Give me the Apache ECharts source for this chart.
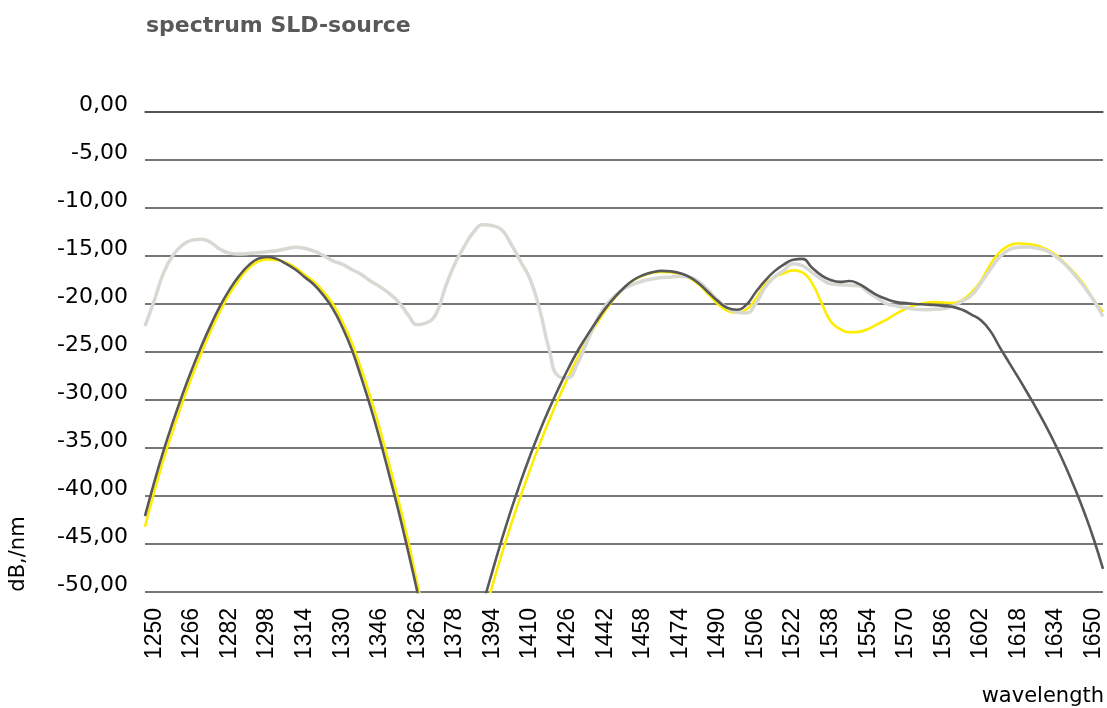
<!DOCTYPE html>
<html>
<head>
<meta charset="utf-8">
<title>spectrum SLD-source</title>
<script src="https://cdn.jsdelivr.net/npm/echarts/dist/echarts.min.js"></script>
<style>
  html, body { margin: 0; padding: 0; background: #fff; }
  #chart { width: 1107px; height: 708px; }
</style>
</head>
<body>
<div id="chart"></div>
<script>
// wavelength, nm (every 4 nm, labels shown every 16 nm)
const wavelength = [
  1246, 1250, 1254, 1258, 1262, 1266, 1270, 1274, 1278, 1282,
  1286, 1290, 1294, 1298, 1302, 1306, 1310, 1314, 1318, 1322,
  1326, 1330, 1334, 1338, 1342, 1346, 1350, 1354, 1358, 1362,
  1366, 1370, 1374, 1378, 1382, 1386, 1390, 1394, 1398, 1402,
  1406, 1410, 1414, 1418, 1422, 1426, 1430, 1434, 1438, 1442,
  1446, 1450, 1454, 1458, 1462, 1466, 1470, 1474, 1478, 1482,
  1486, 1490, 1494, 1498, 1502, 1506, 1510, 1514, 1518, 1522,
  1526, 1530, 1534, 1538, 1542, 1546, 1550, 1554, 1558, 1562,
  1566, 1570, 1574, 1578, 1582, 1586, 1590, 1594, 1598, 1602,
  1606, 1610, 1614, 1618, 1622, 1626, 1630, 1634, 1638, 1642,
  1646, 1650, 1654
];

// dark grey curve (dB/nm), values below -50 fall out of the plot
const darkCurve = [
  -42.1, -38.5, -35.2, -32.2, -29.4, -26.8, -24.4, -22.2, -20.2, -18.5,
  -17.1, -16.0, -15.3, -15.1, -15.3, -15.8, -16.4, -17.2, -18.0, -19.1,
  -20.5, -22.4, -24.7, -27.6, -30.7, -34.1, -37.8, -41.6, -45.7, -50.0,
  -54.5, -58.5, -61, -61, -59, -55.5, -51.3, -47.8, -44.5, -41.4,
  -38.5, -35.8, -33.3, -31.0, -28.85, -26.85, -25.0, -23.4, -21.9, -20.5,
  -19.3, -18.3, -17.5, -17.0, -16.7, -16.55, -16.6, -16.8, -17.2, -17.9,
  -18.8, -19.7, -20.4, -20.6, -20.1, -18.8, -17.6, -16.6, -15.9, -15.4,
  -15.3, -16.2, -17.0, -17.5, -17.7, -17.6, -17.9, -18.5, -19.1, -19.5,
  -19.8, -19.9, -20.0, -20.05, -20.1, -20.2, -20.3, -20.6, -21.1, -21.7,
  -22.8, -24.5, -26.1, -27.7, -29.35, -31.05, -32.85, -34.8, -36.9, -39.2,
  -41.7, -44.45, -47.6
];

// yellow curve
const yellowCurve = [
  -43.2, -39.5, -36.1, -33.1, -30.2, -27.55, -25.1, -22.8, -20.75, -18.95,
  -17.5, -16.3, -15.6, -15.35, -15.4, -15.7, -16.2, -16.95, -17.7, -18.7,
  -20.0, -21.8, -24.0, -26.7, -29.7, -33.0, -36.7, -40.5, -44.6, -49.2,
  -53.6, -58, -61, -62, -60, -57, -52.9, -49.3, -46.0, -42.9,
  -40.0, -37.25, -34.65, -32.2, -29.9, -27.75, -25.75, -23.9, -22.2, -20.7,
  -19.4, -18.35, -17.55, -17.05, -16.75, -16.65, -16.7, -16.9, -17.3, -18.0,
  -19.0, -20.0, -20.7, -20.9, -20.6, -19.5, -18.0, -17.2, -16.8, -16.5,
  -16.7, -17.8, -19.8, -21.8, -22.6, -22.95, -22.9, -22.6, -22.1, -21.6,
  -21.0, -20.5, -20.1, -19.9, -19.8, -19.85, -19.9, -19.6, -18.8, -17.6,
  -15.9, -14.6, -13.9, -13.7, -13.75, -13.9, -14.3, -14.9, -15.8, -16.8,
  -18.0, -19.6, -20.8
];

// light grey curve
const greyCurve = [
  -22.3, -19.6, -16.7, -14.9, -13.85, -13.35, -13.25, -13.6, -14.3, -14.7,
  -14.8, -14.75, -14.65, -14.55, -14.45, -14.25, -14.1, -14.2, -14.5, -14.95,
  -15.5, -15.85, -16.4, -16.9, -17.6, -18.2, -18.9, -19.8, -21.1, -22.15,
  -21.95, -21.0, -18.2, -15.8, -14.0, -12.5, -11.75, -11.85, -12.3, -13.8,
  -15.6, -17.4, -20.5, -24.6, -27.5, -27.7, -26.3, -24.1, -21.9, -20.2,
  -19.2, -18.4, -17.95, -17.6, -17.4, -17.25, -17.2, -17.1, -17.2, -17.7,
  -18.6, -19.6, -20.4, -20.85, -20.95, -20.0, -18.3, -17.2, -16.5, -15.8,
  -16.0, -16.7, -17.4, -17.9, -18.0, -18.05, -18.1, -18.8, -19.4, -20.0,
  -20.2, -20.4, -20.55, -20.6, -20.55, -20.5, -20.2, -19.7, -19.1, -17.8,
  -16.4, -15.1, -14.35, -14.1, -14.05, -14.2, -14.45, -15.1, -15.9, -17.0,
  -18.2, -19.6, -21.3
];

// y axis range and step
const yRange = [-50, 0];
const yStep = 5;

const mychart = echarts.init(document.getElementById("chart"));

function lineSeries(name, data, color, width) {
  return {
    name: name,
    type: "line",
    data: data,
    smooth: true,
    symbol: "none",
    clip: true,
    lineStyle: { color: color, width: width },
  };
}

mychart.setOption({
  animation: false,
  backgroundColor: "#fff",
  title: {
    text: "spectrum SLD-source",
    left: 146,
    top: 15,
    padding: 0,
    textStyle: {
      color: "#59595b",
      fontSize: 22,
      fontWeight: "bold",
      fontFamily: "DejaVu Sans",
    },
  },
  grid: {
    left: 145,
    right: 4,
    top: 112,
    bottom: 116,
  },
  xAxis: {
    type: "category",
    data: wavelength,
    boundaryGap: false,
    axisLine: { show: true, lineStyle: { color: "#4a4a4a", width: 1.5 } },
    axisTick: { show: false },
    axisLabel: {
      rotate: 90,
      margin: 16,
      color: "#000",
      fontSize: 23,
      fontFamily: "Liberation Sans",
      // label every 16 nm, starting at 1250
      interval: function (index) {
        return index % 4 === 1;
      },
    },
    splitLine: { show: false },
  },
  yAxis: {
    type: "value",
    min: yRange[0],
    max: yRange[1],
    interval: yStep,
    axisLine: { show: false },
    axisTick: { show: false },
    axisLabel: {
      margin: 17,
      color: "#000",
      fontSize: 22,
      fontFamily: "DejaVu Sans",
      // labels sit a little above their grid line
      verticalAlign: "bottom",
      lineHeight: 14,
      formatter: function (v) {
        return v.toFixed(2).replace(".", ",");
      },
    },
    splitLine: { show: true, lineStyle: { color: "#4a4a4a", width: 1.5 } },
  },
  graphic: [
    {
      type: "text",
      x: 19,
      y: 554,
      rotation: Math.PI / 2,
      style: {
        text: "dB,/nm",
        fill: "#000",
        fontSize: 21,
        fontFamily: "DejaVu Sans",
        textAlign: "center",
        textVerticalAlign: "middle",
      },
    },
    {
      type: "text",
      right: 3,
      top: 686,
      style: {
        text: "wavelength",
        fill: "#000",
        fontSize: 21,
        fontFamily: "DejaVu Sans",
      },
    },
  ],
  series: [
    lineSeries("yellow", yellowCurve, "#ffed00", 2.6),
    lineSeries("light grey", greyCurve, "#d9d9d3", 3.5),
    lineSeries("dark grey", darkCurve, "#58585a", 2.6),
  ],
});
</script>
</body>
</html>
